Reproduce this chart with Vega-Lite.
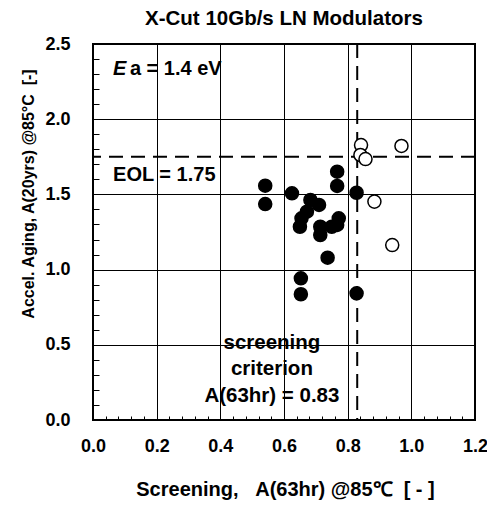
{
  "$schema": "https://vega.github.io/schema/vega-lite/v6.json",
  "width": 382,
  "height": 376,
  "autosize": "none",
  "padding": {"left": 93, "top": 44, "right": 12, "bottom": 86},
  "background": "white",
  "title": {"text": "X-Cut 10Gb/s LN Modulators", "font": "Liberation Sans", "fontSize": 20.5, "fontWeight": "bold", "color": "black", "anchor": "middle", "offset": 6},
  "config": {
    "view": {"stroke": "black", "strokeWidth": 2},
    "axis": {
      "labelFont": "Liberation Sans", "labelFontSize": 18, "labelFontWeight": "bold", "labelColor": "black",
      "titleFont": "Liberation Sans", "titleFontWeight": "bold", "titleColor": "black",
      "domain": false, "tickColor": "black", "tickWidth": 1, "gridColor": "black", "gridWidth": 1
    }
  },
  "datasets": {
    "pts": [
      {"x": 0.541, "y": 1.558, "g": "pass"},
      {"x": 0.541, "y": 1.436, "g": "pass"},
      {"x": 0.625, "y": 1.507, "g": "pass"},
      {"x": 0.683, "y": 1.463, "g": "pass"},
      {"x": 0.71, "y": 1.43, "g": "pass"},
      {"x": 0.672, "y": 1.385, "g": "pass"},
      {"x": 0.655, "y": 1.341, "g": "pass"},
      {"x": 0.65, "y": 1.285, "g": "pass"},
      {"x": 0.714, "y": 1.285, "g": "pass"},
      {"x": 0.714, "y": 1.23, "g": "pass"},
      {"x": 0.75, "y": 1.285, "g": "pass"},
      {"x": 0.772, "y": 1.341, "g": "pass"},
      {"x": 0.767, "y": 1.297, "g": "pass"},
      {"x": 0.767, "y": 1.651, "g": "pass"},
      {"x": 0.767, "y": 1.556, "g": "pass"},
      {"x": 0.828, "y": 1.511, "g": "pass"},
      {"x": 0.737, "y": 1.079, "g": "pass"},
      {"x": 0.653, "y": 0.942, "g": "pass"},
      {"x": 0.653, "y": 0.836, "g": "pass"},
      {"x": 0.828, "y": 0.842, "g": "pass"},
      {"x": 0.842, "y": 1.828, "g": "fail"},
      {"x": 0.84, "y": 1.762, "g": "fail"},
      {"x": 0.856, "y": 1.735, "g": "fail"},
      {"x": 0.969, "y": 1.822, "g": "fail"},
      {"x": 0.884, "y": 1.452, "g": "fail"},
      {"x": 0.94, "y": 1.163, "g": "fail"}
    ]
  },
  "layer": [
    {
      "data": {"values": [{"y": 1.75}]},
      "mark": {"type": "rule", "color": "black", "strokeWidth": 2, "strokeDash": [14, 8]},
      "encoding": {"y": {"field": "y", "type": "quantitative"}}
    },
    {
      "data": {"values": [{"x": 0.83}]},
      "mark": {"type": "rule", "color": "black", "strokeWidth": 2, "strokeDash": [14, 8]},
      "encoding": {"x": {"field": "x", "type": "quantitative"}}
    },
    {
      "data": {"name": "pts"},
      "mark": {"type": "point", "shape": "circle", "size": 170, "opacity": 1, "stroke": "black", "strokeWidth": 1.5},
      "encoding": {
        "x": {
          "field": "x", "type": "quantitative",
          "scale": {"domain": [0, 1.2], "nice": false, "zero": false},
          "axis": {
            "values": [0, 0.04, 0.08, 0.12, 0.16, 0.2, 0.24, 0.28, 0.32, 0.36, 0.4, 0.44, 0.48, 0.52, 0.56, 0.6, 0.64, 0.68, 0.72, 0.76, 0.8, 0.84, 0.88, 0.92, 0.96, 1.0, 1.04, 1.08, 1.12, 1.16, 1.2],
            "tickCount": 100,
            "labelExpr": "abs(datum.value*5 - round(datum.value*5)) < 0.01 ? format(datum.value, '.1f') : ''",
            "grid": true,
            "gridOpacity": {"condition": {"test": "abs(datum.value*5 - round(datum.value*5)) < 0.01", "value": 1}, "value": 0},
            "tickSize": -4,
            "labelPadding": 21,
            "labelFlush": false,
            "labelOverlap": false,
            "title": "Screening,\u00a0\u00a0\u00a0A(63hr) @85\u2103\u00a0\u00a0[ - ]",
            "titleFontSize": 20,
            "titleX": 192, "titleY": 69, "titleBaseline": "middle", "titleAlign": "center"
          }
        },
        "y": {
          "field": "y", "type": "quantitative",
          "scale": {"domain": [0, 2.5], "nice": false, "zero": false},
          "axis": {
            "values": [0, 0.1, 0.2, 0.3, 0.4, 0.5, 0.6, 0.7, 0.8, 0.9, 1.0, 1.1, 1.2, 1.3, 1.4, 1.5, 1.6, 1.7, 1.8, 1.9, 2.0, 2.1, 2.2, 2.3, 2.4, 2.5],
            "tickCount": 100,
            "labelExpr": "abs(datum.value*2 - round(datum.value*2)) < 0.01 ? format(datum.value, '.1f') : ''",
            "grid": true,
            "gridOpacity": {"condition": {"test": "abs(datum.value*2 - round(datum.value*2)) < 0.01", "value": 1}, "value": 0},
            "tickSize": -6,
            "labelPadding": 29,
            "labelFlush": false,
            "labelOverlap": false,
            "title": "Accel. Aging, A(20yrs) @85\u00b0C\u00a0\u00a0[-]",
            "titleFontSize": 16,
            "titleAngle": -90,
            "titleX": -64.5, "titleY": 149.5, "titleBaseline": "middle", "titleAlign": "center"
          }
        },
        "fill": {"field": "g", "type": "nominal", "scale": {"domain": ["pass", "fail"], "range": ["black", "white"]}, "legend": null}
      }
    },
    {
      "data": {"values": [{"x": 0.063, "y": 2.333, "t": "E"}]},
      "mark": {"type": "text", "font": "Liberation Sans", "fontSize": 20, "fontWeight": "bold", "fontStyle": "italic", "align": "left", "baseline": "middle", "color": "black"},
      "encoding": {"x": {"field": "x", "type": "quantitative"}, "y": {"field": "y", "type": "quantitative"}, "text": {"field": "t"}}
    },
    {
      "data": {"values": [{"x": 0.116, "y": 2.333, "t": "a = 1.4 eV"}, {"x": 0.063, "y": 1.626, "t": "EOL = 1.75"}]},
      "mark": {"type": "text", "font": "Liberation Sans", "fontSize": 20, "fontWeight": "bold", "align": "left", "baseline": "middle", "color": "black"},
      "encoding": {"x": {"field": "x", "type": "quantitative"}, "y": {"field": "y", "type": "quantitative"}, "text": {"field": "t"}}
    },
    {
      "data": {"values": [{"x": 0.562, "y": 0.51, "t": "screening"}, {"x": 0.562, "y": 0.337, "t": "criterion"}, {"x": 0.562, "y": 0.16, "t": "A(63hr) = 0.83"}]},
      "mark": {"type": "text", "font": "Liberation Sans", "fontSize": 20.5, "fontWeight": "bold", "align": "center", "baseline": "middle", "color": "black"},
      "encoding": {"x": {"field": "x", "type": "quantitative"}, "y": {"field": "y", "type": "quantitative"}, "text": {"field": "t"}}
    }
  ]
}
